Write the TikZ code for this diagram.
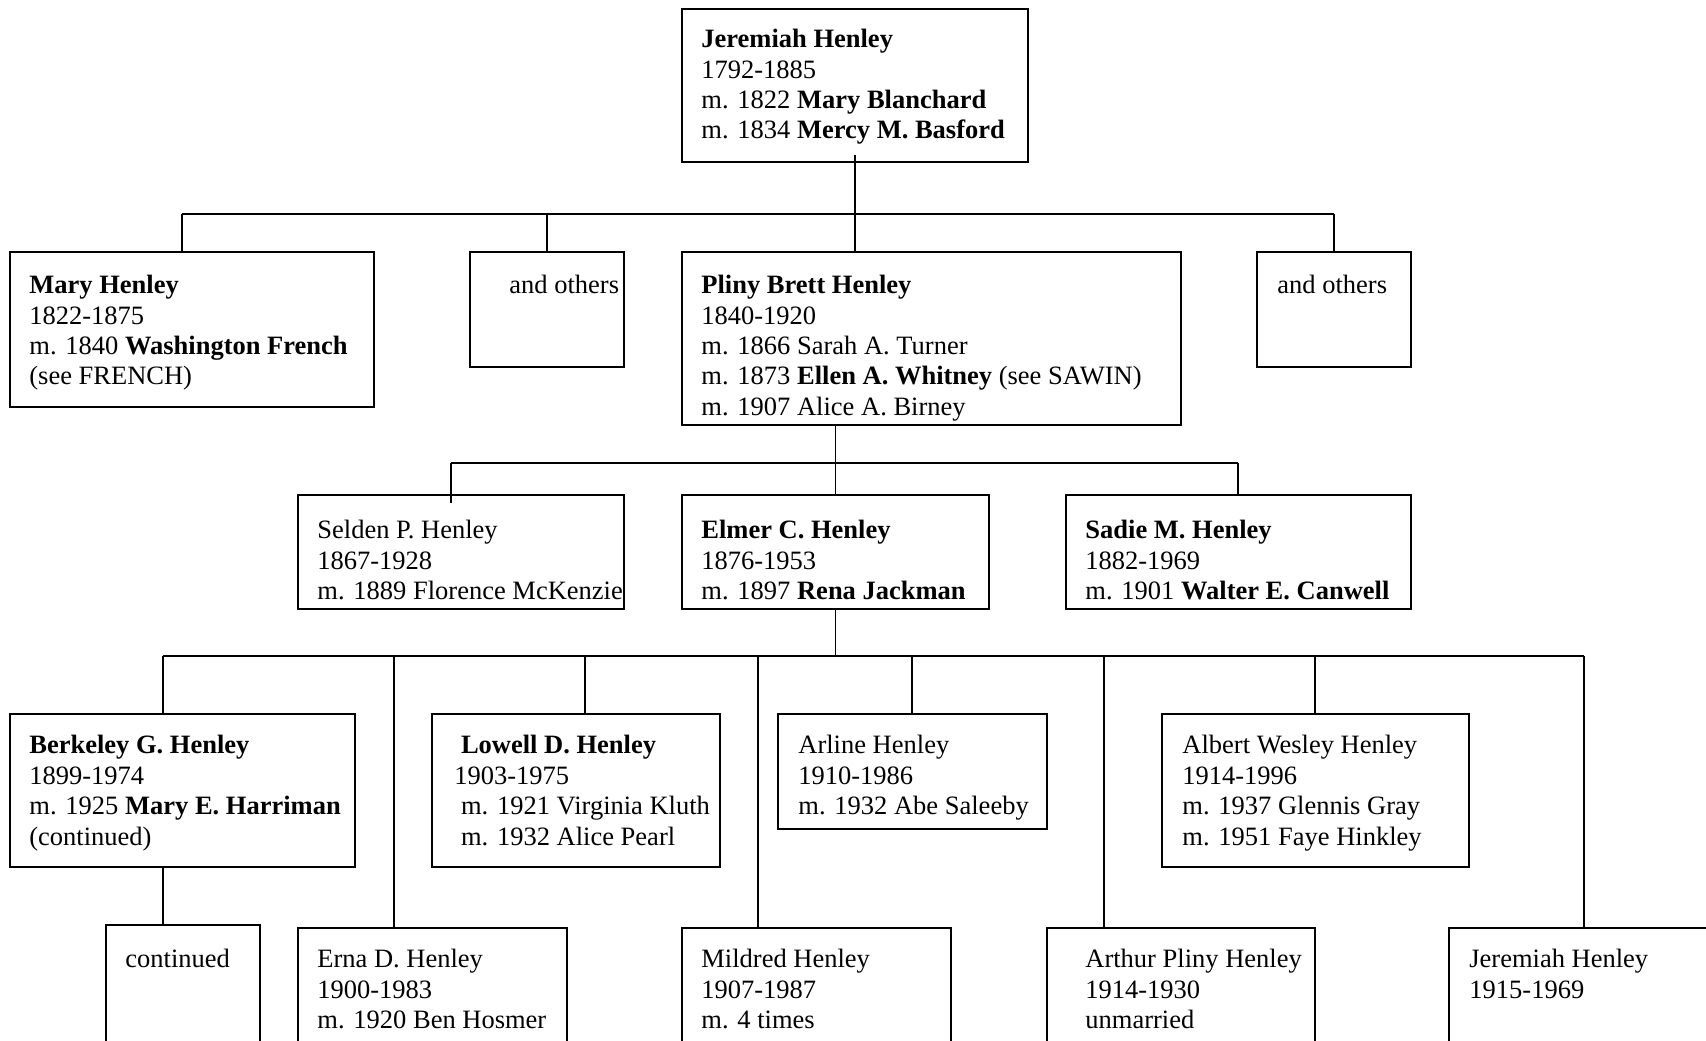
\documentclass[tikz,border=0pt]{standalone}
\usepackage{fontspec}
\setmainfont{Liberation Serif}
\usetikzlibrary{positioning}
\tikzset{
  person/.style 2 args={draw, line width=0.75pt, rectangle, anchor=north west,
    inner sep=0pt, outer sep=0pt, minimum width=#1, minimum height=#2},
  txt/.style={inner sep=0pt, align=left,
    font=\fontsize{13.25pt}{15.2pt}\selectfont},
  link/.style={line width=0.75pt}
}

\begin{document}
\begin{tikzpicture}[x=0.5pt, y=-0.5pt]

\useasboundingbox (0,0) rectangle (1706,1040);
\fill[white] (0,0) rectangle (1706,1040);
\clip (0,0) rectangle (1706,1040);

% --- Generation 1 ---
\node[person={173pt}{76.5pt}] (jer) at (682,9) {};
\node[txt, below right=10pt and 9.5pt of jer.north west] (jer-t)
  {\textbf{Jeremiah Henley}\\1792-1885\\m. 1822 \textbf{Mary Blanchard}\\m. 1834 \textbf{Mercy M. Basford}};

% --- Generation 2 ---
\node[person={182pt}{77.5pt}] (mary) at (10,252) {};
\node[txt, below right=11.5pt and 9.5pt of mary.north west] (mary-t)
  {\textbf{Mary Henley}\\1822-1875\\m. 1840 \textbf{Washington French}\\(see FRENCH)};

\node[person={77pt}{57.5pt}] (oth1) at (470,252) {};
\node[txt, below right=11.5pt and 19.5pt of oth1.north west] (oth1-t) {and others};

\node[person={249.5pt}{86.5pt}] (pliny) at (682,252) {};
\node[txt, below right=11.5pt and 9.5pt of pliny.north west] (pliny-t)
  {\textbf{Pliny Brett Henley}\\1840-1920\\m. 1866 Sarah A. Turner\\m. 1873 \textbf{Ellen A. Whitney} (see SAWIN)\\m. 1907 Alice A. Birney};

\node[person={77pt}{57.5pt}] (oth2) at (1257,252) {};
\node[txt, below right=11.5pt and 10pt of oth2.north west] (oth2-t) {and others};

% --- Generation 3 ---
\node[person={163pt}{57pt}] (selden) at (298,495) {};
\node[txt, below right=12.5pt and 9.5pt of selden.north west] (selden-t)
  {Selden P. Henley\\1867-1928\\m. 1889 Florence McKenzie};

\node[person={153.5pt}{57pt}] (elmer) at (682,495) {};
\node[txt, below right=12.5pt and 9.5pt of elmer.north west] (elmer-t)
  {\textbf{Elmer C. Henley}\\1876-1953\\m. 1897 \textbf{Rena Jackman}};

\node[person={172.5pt}{57pt}] (sadie) at (1066,495) {};
\node[txt, below right=12.5pt and 9.5pt of sadie.north west] (sadie-t)
  {\textbf{Sadie M. Henley}\\1882-1969\\m. 1901 \textbf{Walter E. Canwell}};

% --- Generation 4 ---
\node[person={172.5pt}{76.5pt}] (berk) at (10,714) {};
\node[txt, below right=10.5pt and 9.5pt of berk.north west] (berk-t)
  {\textbf{Berkeley G. Henley}\\1899-1974\\m. 1925 \textbf{Mary E. Harriman}\\(continued)};

\node[person={144pt}{76.5pt}] (lowell) at (432,714) {};
\node[txt, below right=10.5pt and 11pt of lowell.north west] (lowell-t)
  {\hspace*{.25em}\textbf{Lowell D. Henley}\\1903-1975\\\hspace*{.25em}m. 1921 Virginia Kluth\\\hspace*{.25em}m. 1932 Alice Pearl};

\node[person={134.5pt}{57.5pt}] (arline) at (778,714) {};
\node[txt, below right=10.5pt and 10pt of arline.north west] (arline-t)
  {Arline Henley\\1910-1986\\m. 1932 Abe Saleeby};

\node[person={153.5pt}{76.5pt}] (albert) at (1162,714) {};
\node[txt, below right=10.5pt and 10pt of albert.north west] (albert-t)
  {Albert Wesley Henley\\1914-1996\\m. 1937 Glennis Gray\\m. 1951 Faye Hinkley};

% --- Generation 5 (cut by the page edge) ---
\node[person={77pt}{70pt}] (cont) at (106,925) {};
\node[txt, below right=12pt and 9.5pt of cont.north west] (cont-t) {continued};

\node[person={134.5pt}{70pt}] (erna) at (298,928) {};
\node[txt, below right=10.5pt and 9.5pt of erna.north west] (erna-t)
  {Erna D. Henley\\1900-1983\\m. 1920 Ben Hosmer};

\node[person={134.5pt}{70pt}] (mildred) at (682,928) {};
\node[txt, below right=10.5pt and 9.5pt of mildred.north west] (mildred-t)
  {Mildred Henley\\1907-1987\\m. 4 times};

\node[person={134pt}{70pt}] (arthur) at (1047,928) {};
\node[txt, below right=10.5pt and 19pt of arthur.north west] (arthur-t)
  {Arthur Pliny Henley\\1914-1930\\unmarried};

\node[person={150pt}{70pt}] (jertwo) at (1449,928) {};
\node[txt, below right=10.5pt and 10pt of jertwo.north west] (jertwo-t)
  {Jeremiah Henley\\1915-1969};

% --- Lines under Jeremiah ---
\coordinate (b1w) at (182,214);
\coordinate (b1e) at (1334,214);
\draw[link] (b1w) -- (b1e);
\draw[link] ([yshift=3.5pt]jer.south) -- (jer.south |- b1w) -- (jer.south |- pliny.north);
\draw[link] (b1w) -- (b1w |- mary.north);
\draw[link] (oth1.north |- b1w) -- (oth1.north);
\draw[link] (b1e) -- (oth2.north);

% --- Lines under Pliny ---
\coordinate (b2w) at (451,463);
\coordinate (b2e) at (1238,463);
\draw[link] (b2w) -- (b2e);
\draw[link] (elmer.north |- pliny.south) -- (elmer.north);
\draw[link] (b2w) -- ([yshift=-4pt]b2w |- selden.north);
\draw[link] (b2e) -- (b2e |- sadie.north);

% --- Lines under Elmer ---
\foreach \nm/\x in {berk/163, erna/394, lowell/585, mildred/758,
  arline/912, arthur/1104, albert/1315, jertwo/1584}{
  \coordinate (d-\nm) at (\x,656);
  \draw[link] (d-\nm) -- (d-\nm |- \nm.north);
}
\draw[link] (d-berk) -- (d-jertwo);
\draw[link] (elmer.south) -- (elmer.south |- d-berk);
\draw[link] (berk.south -| d-berk) -- (cont.north -| d-berk);

\end{tikzpicture}
\end{document}
